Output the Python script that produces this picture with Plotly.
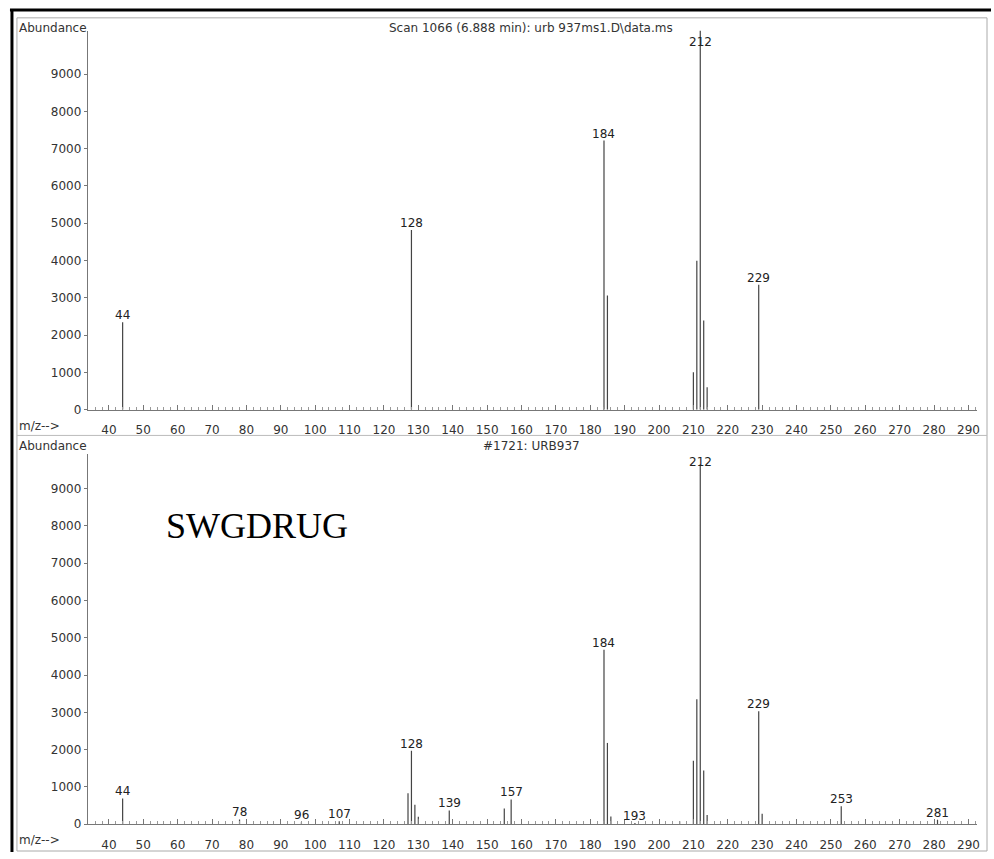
import plotly.graph_objects as go

# ---------------- data ----------------
top_mz = [44, 128, 184, 185, 210, 211, 212, 213, 214, 229]
top_ab = [2340, 4820, 7215, 3060, 1000, 3990, 10400, 2390, 600, 3350]
top_labels = [44, 128, 184, 212, 229]

bot_mz = [44, 78, 96, 107, 127, 128, 129, 130, 139, 155, 157, 184, 185, 186,
          193, 206, 210, 211, 212, 213, 214, 229, 230, 253, 281]
bot_ab = [690, 130, 50, 80, 830, 1970, 520, 200, 370, 425, 665, 4680, 2180, 210,
          30, 80, 1700, 3350, 9650, 1440, 250, 3030, 280, 480, 120]
bot_labels = [44, 78, 96, 107, 128, 139, 157, 184, 193, 212, 229, 253, 281]

y_ticks = [0, 1000, 2000, 3000, 4000, 5000, 6000, 7000, 8000, 9000]
x_ticks = list(range(40, 300, 10))

top_title = "Scan 1066 (6.888 min): urb 937ms1.D\\data.ms"
bot_title = "#1721: URB937"
y_label = "Abundance"
x_label = "m/z-->"
watermark = "SWGDRUG"

# ---------------- layout constants ----------------
W, H = 994, 859
FONT = "DejaVu Sans"
LINE_COL = "#444444"
TXT_COL = "#333333"
AX_COL = "#777777"

def px_x(p):
    return p / W

def px_y(p):
    return 1 - p / H

X_RANGE = [33.85, 292.5]
TOP_YMAX = 10160
BOT_YMAX = 10000


def sticks(mz, ab):
    xs, ys = [], []
    for m, v in zip(mz, ab):
        xs += [m, m, None]
        ys += [0, v, None]
    return xs, ys


fig = go.Figure()
tx, ty = sticks(top_mz, top_ab)
bx, by = sticks(bot_mz, bot_ab)
fig.add_trace(go.Scatter(x=tx, y=ty, mode="lines", xaxis="x", yaxis="y",
                         line=dict(color=LINE_COL, width=1.2), hoverinfo="skip"))
fig.add_trace(go.Scatter(x=bx, y=by, mode="lines", xaxis="x2", yaxis="y2",
                         line=dict(color=LINE_COL, width=1.2), hoverinfo="skip"))

annotations = []


def peak_labels(mz, ab, labels, xref, yref, ymax):
    lookup = dict(zip(mz, ab))
    for m in labels:
        v = lookup[m]
        if v >= ymax * 0.95:
            annotations.append(dict(x=m, y=ymax - 300, xref=xref, yref=yref,
                                    text=str(m), showarrow=False, yanchor="middle",
                                    font=dict(family=FONT, size=12, color="#222")))
        else:
            annotations.append(dict(x=m, y=v, xref=xref, yref=yref, text=str(m),
                                    showarrow=False, yanchor="bottom", yshift=-2,
                                    font=dict(family=FONT, size=12, color="#222")))


peak_labels(top_mz, top_ab, top_labels, "x", "y", TOP_YMAX)
peak_labels(bot_mz, bot_ab, bot_labels, "x2", "y2", BOT_YMAX)

small = dict(family=FONT, size=12, color=TXT_COL)
for yy, title in [(28, top_title), (450, bot_title)]:
    annotations.append(dict(x=px_x(17), y=px_y(yy), xref="paper", yref="paper",
                            text=y_label, showarrow=False, xanchor="left",
                            yanchor="middle", font=small))
    annotations.append(dict(x=px_x(533), y=px_y(yy), xref="paper", yref="paper",
                            text=title, showarrow=False, xanchor="center",
                            yanchor="middle", font=small))
for yy in [429, 847]:
    annotations.append(dict(x=px_x(17), y=px_y(yy), xref="paper", yref="paper",
                            text=x_label, showarrow=False, xanchor="left",
                            yanchor="middle", font=small))

annotations.append(dict(x=px_x(258), y=px_y(530), xref="paper", yref="paper",
                        text=watermark, showarrow=False, xanchor="center",
                        yanchor="middle",
                        font=dict(family="Liberation Serif", size=36, color="#000")))

xaxis_common = dict(
    range=X_RANGE, tickmode="array", tickvals=x_ticks,
    ticktext=[str(t) for t in x_ticks], ticks="inside", ticklen=5,
    tickcolor=AX_COL, showline=True, linecolor=AX_COL, linewidth=1,
    showgrid=False, zeroline=False, tickfont=small, ticklabelstandoff=9,
    minor=dict(tickmode="linear", tick0=0, dtick=2, ticks="inside", ticklen=3,
               tickcolor="#999999", showgrid=False),
    fixedrange=True,
)
yaxis_common = dict(
    tickmode="array", tickvals=y_ticks, ticktext=[str(t) for t in y_ticks],
    ticks="outside", ticklen=3, tickcolor=AX_COL, showline=True,
    linecolor=AX_COL, linewidth=1, showgrid=False, zeroline=False,
    tickfont=small, fixedrange=True,
)

fig.update_layout(
    width=W, height=H,
    margin=dict(l=0, r=0, t=0, b=0),
    paper_bgcolor="white", plot_bgcolor="white",
    showlegend=False,
    xaxis=dict(domain=[px_x(88), px_x(980)], anchor="y", **xaxis_common),
    yaxis=dict(domain=[px_y(413), px_y(31)], anchor="x",
               range=[0, TOP_YMAX], **yaxis_common),
    xaxis2=dict(domain=[px_x(88), px_x(980)], anchor="y2", **xaxis_common),
    yaxis2=dict(domain=[px_y(831), px_y(458)], anchor="x2",
                range=[0, BOT_YMAX * (831 - 458) / (831 - 455)], **yaxis_common),
    annotations=annotations,
    shapes=[
        dict(type="line", xref="paper", yref="paper", x0=px_x(10), x1=1,
             y0=px_y(10), y1=px_y(10), line=dict(color="black", width=3)),
        dict(type="line", xref="paper", yref="paper", x0=px_x(12), x1=px_x(12),
             y0=px_y(10), y1=0, line=dict(color="black", width=3)),
        dict(type="rect", xref="paper", yref="paper", x0=px_x(17), x1=px_x(990),
             y0=px_y(858), y1=px_y(18), line=dict(color="#aaaaaa", width=1)),
        dict(type="line", xref="paper", yref="paper", x0=px_x(17), x1=px_x(990),
             y0=px_y(439), y1=px_y(439), line=dict(color="#bbbbbb", width=1)),
    ],
)

fig.write_html("out.html")
